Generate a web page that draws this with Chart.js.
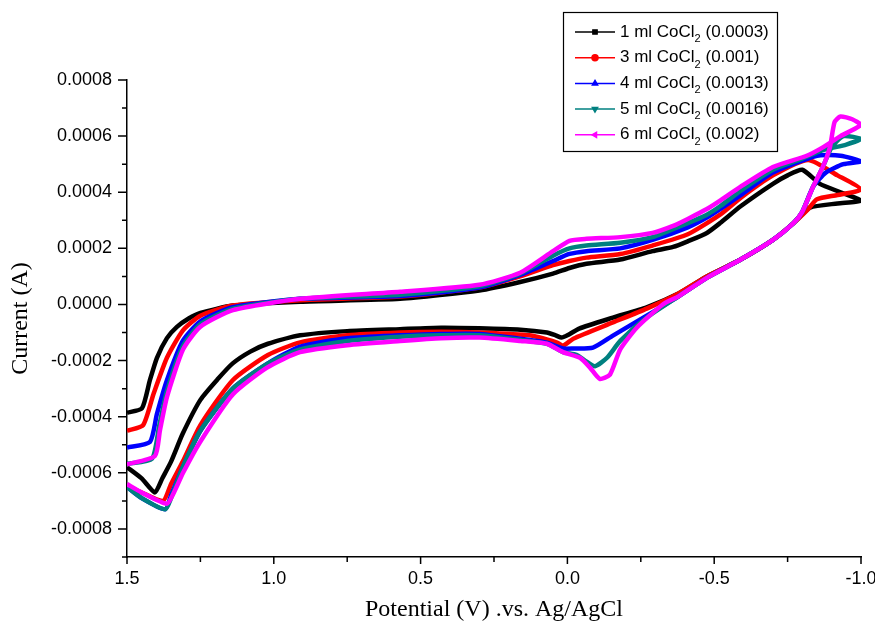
<!DOCTYPE html>
<html>
<head>
<meta charset="utf-8">
<script src="https://cdn.jsdelivr.net/npm/chart.js@4.4.0/dist/chart.umd.min.js"></script>
<style>
  html, body { margin: 0; padding: 0; background: #ffffff; }
  #contenedor { width: 875px; height: 628px; }
</style>
</head>
<body>
<div id="contenedor"><canvas id="grafica"></canvas></div>
<script>
//datos (potencial en V, corriente en A)
var etiquetas = [ '1 ml CoCl₂ (0.0003)', '3 ml CoCl₂ (0.001)', '4 ml CoCl₂ (0.0013)', '5 ml CoCl₂ (0.0016)', '6 ml CoCl₂ (0.002)' ];
var colores = [ '#000000', '#ff0000', '#0000ff', '#008080', '#ff00ff' ];
var marcadores = [ 'rect', 'circle', 'triangle', 'triangle', 'triangle' ];
var giros = [ 0, 0, 0, 180, -90 ];

var ticksX = [ 1.5, 1.0, 0.5, 0.0, -0.5, -1.0 ];
var ticksY = [ 0.0008, 0.0006, 0.0004, 0.0002, 0.0000, -0.0002, -0.0004, -0.0006, -0.0008 ];

var potencial1 = [ 1.5, 1.45, 1.405, 1.38, 1.35, 1.31, 1.25, 1.19, 1.14, 1.08, 1.02, 0.91, 0.75, 0.57, 0.43, 0.3, 0.16, 0.07, 0.04, 0.02, 0.0, -0.04, -0.155, -0.27, -0.38, -0.475, -0.59, -0.70, -0.77, -0.826, -0.92, -1.0,
                   -0.93, -0.86, -0.80, -0.75, -0.70, -0.59, -0.52, -0.475, -0.41, -0.36, -0.29, -0.18, -0.065, -0.007, 0.049, 0.161, 0.3, 0.57, 0.91, 1.14, 1.25, 1.29, 1.33, 1.364, 1.398, 1.422, 1.449, 1.5 ];
var corriente1 = [ -0.00058, -0.00062, -0.00067, -0.00062, -0.00056, -0.00046, -0.00034, -0.000265, -0.00021, -0.000168, -0.00014, -0.00011, -0.000095, -0.000088, -0.000083, -0.000085, -0.00009, -0.0001, -0.00011, -0.000118, -0.00011, -0.000086, -0.000047, -0.00001, 0.00004, 0.0001, 0.00016, 0.00023, 0.00029, 0.000345, 0.00036, 0.00037,
                   0.0004, 0.00043, 0.00048, 0.00046, 0.00043, 0.00035, 0.00029, 0.000255, 0.000225, 0.000205, 0.00019, 0.00016, 0.000145, 0.00013, 0.00011, 0.00008, 0.00005, 0.00002, 0.00001, -0.000004, -0.00003, -0.00005, -0.00008, -0.00012, -0.00019, -0.00027, -0.00037, -0.000386 ];

var potencial2 = [ 1.5, 1.45, 1.377, 1.35, 1.31, 1.25, 1.14, 1.02, 0.91, 0.75, 0.57, 0.43, 0.3, 0.13, 0.035, 0.015, -0.02, -0.155, -0.27, -0.38, -0.475, -0.59, -0.70, -0.77, -0.82, -0.85, -0.92, -1.0,
                   -0.92, -0.82, -0.70, -0.59, -0.52, -0.41, -0.29, -0.18, -0.065, -0.007, 0.049, 0.161, 0.3, 0.57, 0.91, 1.14, 1.25, 1.31, 1.364, 1.41, 1.445, 1.5 ];
var corriente2 = [ -0.000645, -0.00067, -0.0007, -0.00064, -0.00056, -0.00043, -0.00027, -0.00018, -0.000135, -0.00011, -0.0001, -0.000097, -0.0001, -0.00011, -0.000136, -0.000147, -0.000122, -0.000064, -0.000015, 0.00004, 0.0001, 0.00016, 0.00023, 0.00029, 0.00034, 0.000375, 0.00039, 0.00041,
                   0.00046, 0.000515, 0.00046, 0.00038, 0.00032, 0.00025, 0.00021, 0.00018, 0.000167, 0.000155, 0.00014, 0.0001, 0.00006, 0.000028, 0.000015, -0.000004, -0.00004, -0.000093, -0.00019, -0.00032, -0.00043, -0.00045 ];

var potencial3 = [ 1.5, 1.45, 1.37, 1.35, 1.31, 1.25, 1.14, 1.02, 0.91, 0.75, 0.57, 0.43, 0.3, 0.07, 0.015, -0.02, -0.087, -0.155, -0.27, -0.38, -0.475, -0.59, -0.70, -0.77, -0.80, -0.837, -0.88, -0.94, -1.0,
                   -0.93, -0.85, -0.70, -0.59, -0.52, -0.475, -0.41, -0.29, -0.18, -0.065, -0.007, 0.049, 0.161, 0.3, 0.57, 0.91, 1.14, 1.25, 1.31, 1.364, 1.398, 1.422, 1.5 ];
var corriente3 = [ -0.00065, -0.00069, -0.00073, -0.00068, -0.00058, -0.00045, -0.0003, -0.00021, -0.00015, -0.00012, -0.00011, -0.000105, -0.000105, -0.000136, -0.000157, -0.000157, -0.000154, -0.000111, -0.00004, 0.00003, 0.000095, 0.00016, 0.00023, 0.00029, 0.00033, 0.00042, 0.00047, 0.0005, 0.00051,
                   0.00053, 0.00053, 0.00047, 0.00039, 0.00034, 0.00031, 0.000275, 0.00023, 0.0002, 0.00019, 0.00018, 0.000155, 0.000105, 0.00006, 0.00003, 0.00002, -0.00001, -0.00006, -0.00013, -0.00027, -0.00039, -0.00049, -0.00051 ];

var potencial4 = [ 1.5, 1.45, 1.37, 1.35, 1.31, 1.25, 1.14, 1.02, 0.91, 0.75, 0.57, 0.43, 0.3, 0.07, 0.015, -0.031, -0.06, -0.094, -0.135, -0.18, -0.27, -0.38, -0.475, -0.59, -0.70, -0.77, -0.80, -0.837, -0.87, -0.9, -0.94, -1.0,
                   -0.95, -0.87, -0.80, -0.70, -0.59, -0.52, -0.475, -0.41, -0.29, -0.18, -0.065, -0.007, 0.049, 0.161, 0.3, 0.57, 0.91, 1.14, 1.25, 1.31, 1.364, 1.39, 1.415, 1.5 ];
var corriente4 = [ -0.00065, -0.00069, -0.00073, -0.00069, -0.00058, -0.00045, -0.0003, -0.00021, -0.00016, -0.00013, -0.000115, -0.00011, -0.00011, -0.00014, -0.00017, -0.00018, -0.0002, -0.00022, -0.00019, -0.00013, -0.000047, 0.00003, 0.000095, 0.00016, 0.00023, 0.00029, 0.00033, 0.00042, 0.00049, 0.00056, 0.0006, 0.00059,
                   0.00057, 0.00055, 0.00052, 0.00048, 0.000405, 0.00035, 0.00032, 0.00029, 0.00024, 0.00022, 0.00021, 0.0002, 0.000174, 0.00011, 0.000065, 0.000035, 0.00002, -0.000015, -0.00007, -0.00015, -0.00031, -0.00043, -0.00055, -0.000568 ];

var potencial5 = [ 1.5, 1.45, 1.364, 1.34, 1.309, 1.251, 1.139, 1.023, 0.911, 0.75, 0.57, 0.43, 0.3, 0.16, 0.07, 0.015, -0.043, -0.077, -0.11, -0.145, -0.18, -0.237, -0.325, -0.38, -0.475, -0.59, -0.70, -0.77, -0.80, -0.837, -0.87, -0.894, -0.91, -0.93, -0.97, -1.0,
                   -0.93, -0.87, -0.815, -0.70, -0.59, -0.52, -0.475, -0.41, -0.36, -0.29, -0.18, -0.065, -0.007, 0.049, 0.161, 0.3, 0.57, 0.91, 1.139, 1.251, 1.309, 1.364, 1.388, 1.405, 1.5 ];
var corriente5 = [ -0.00064, -0.00067, -0.00071, -0.00067, -0.0006, -0.00049, -0.00032, -0.000225, -0.00017, -0.000145, -0.00013, -0.00012, -0.000118, -0.00013, -0.00014, -0.00017, -0.00019, -0.000225, -0.000265, -0.00025, -0.00016, -0.000082, 0.0, 0.00003, 0.000095, 0.00016, 0.00023, 0.00029, 0.00033, 0.00042, 0.00049, 0.00056, 0.00065, 0.00067, 0.00066, 0.00064,
                   0.0006, 0.00056, 0.00053, 0.00049, 0.00042, 0.00037, 0.00034, 0.000305, 0.00028, 0.000255, 0.00024, 0.000234, 0.000227, 0.00019, 0.000113, 0.00007, 0.000045, 0.00002, -0.00002, -0.00008, -0.00016, -0.00033, -0.00045, -0.00054, -0.00057 ];

var potenciales = [ potencial1, potencial2, potencial3, potencial4, potencial5 ];
var corrientes = [ corriente1, corriente2, corriente3, corriente4, corriente5 ];

//armar los datasets
var conjuntos = etiquetas.map( function( etiqueta, i )
{
  return {
    label: etiqueta,
    data: potenciales[ i ].map( function( v, j ) { return { x: v, y: corrientes[ i ][ j ] }; } ),
    borderColor: colores[ i ],
    backgroundColor: colores[ i ],
    borderWidth: 4.5,
    pointRadius: 0,
    showLine: true,
    tension: 0.2,
    order: etiquetas.length - i
  };
});

//marcas de los ejes (mayores y menores)
var marcasEjes =
{
  id: 'marcasEjes',
  afterDraw: function( chart )
  {
    var ctx = chart.ctx;
    var ejeX = chart.scales.x;
    var ejeY = chart.scales.y;
    ctx.save( );
    ctx.strokeStyle = '#000000';
    ctx.lineWidth = 1.5;
    ctx.beginPath( );
    ejeX.ticks.forEach( function( t )
    {
      var px = ejeX.getPixelForValue( t.value );
      var largo = ( Math.round( t.value * 4 ) % 2 === 0 ) ? 7 : 5;
      ctx.moveTo( px, ejeX.top );
      ctx.lineTo( px, ejeX.top + largo );
    });
    ejeY.ticks.forEach( function( t )
    {
      var py = ejeY.getPixelForValue( t.value );
      var largo = ( Math.round( t.value * 10000 ) % 2 === 0 ) ? 9 : 5;
      ctx.moveTo( ejeY.right, py );
      ctx.lineTo( ejeY.right - largo, py );
    });
    ctx.stroke( );
    ctx.restore( );
  }
};

//leyenda con subindice
var leyenda =
{
  id: 'leyenda',
  afterDraw: function( chart )
  {
    var ctx = chart.ctx;
    ctx.save( );
    ctx.fillStyle = '#ffffff';
    ctx.fillRect( 563, 12, 214, 139 );
    ctx.strokeStyle = '#000000';
    ctx.lineWidth = 1.2;
    ctx.strokeRect( 563.5, 12.5, 214, 139 );

    etiquetas.forEach( function( etiqueta, i )
    {
      var y = 32 + i * 25.7;
      ctx.strokeStyle = colores[ i ];
      ctx.lineWidth = 1.5;
      ctx.beginPath( );
      ctx.moveTo( 575, y );
      ctx.lineTo( 615, y );
      ctx.stroke( );
      ctx.fillStyle = colores[ i ];
      Chart.helpers.drawPoint( ctx, { pointStyle: marcadores[ i ], rotation: giros[ i ], radius: 3, borderWidth: 1 }, 595, y );

      var partes = etiqueta.split( '₂' );
      ctx.fillStyle = '#000000';
      ctx.textBaseline = 'middle';
      ctx.textAlign = 'left';
      ctx.font = '17px "Liberation Sans", Arial, sans-serif';
      var x = 620;
      ctx.fillText( partes[ 0 ], x, y );
      x += ctx.measureText( partes[ 0 ] ).width;
      ctx.font = '11px "Liberation Sans", Arial, sans-serif';
      ctx.fillText( '2', x, y + 7 );
      x += ctx.measureText( '2' ).width;
      ctx.font = '17px "Liberation Sans", Arial, sans-serif';
      ctx.fillText( partes[ 1 ], x, y );
    });
    ctx.restore( );
  }
};

var fuenteTicks = { family: '"Liberation Sans", Arial, sans-serif', size: 18 };
var fuenteTitulo = { family: '"Liberation Serif", "Times New Roman", serif', size: 24 };

var grafica = new Chart( document.getElementById( 'grafica' ).getContext( '2d' ),
{
  type: 'scatter',
  data: { datasets: conjuntos },
  options:
  {
    responsive: true,
    maintainAspectRatio: false,
    animation: false,
    layout: { padding: { top: 80, right: 14, left: 0, bottom: 0 } },
    plugins:
    {
      legend: { display: false },
      tooltip: { enabled: false }
    },
    scales:
    {
      x:
      {
        type: 'linear',
        reverse: true,
        min: -1.0,
        max: 1.5,
        grid: { display: true, drawOnChartArea: false, drawTicks: false },
        border: { display: true, color: '#000000', width: 1.5 },
        ticks:
        {
          stepSize: 0.25,
          autoSkip: false,
          maxRotation: 0,
          padding: 11,
          color: '#000000',
          font: fuenteTicks,
          callback: function( v )
          {
            var r = Math.round( v * 10 ) / 10;
            return ticksX.indexOf( r ) >= 0 && Math.abs( v - r ) < 1e-6 ? r.toFixed( 1 ) : '';
          }
        },
        title: { display: true, text: 'Potential (V) .vs. Ag/AgCl', color: '#000000', font: fuenteTitulo, padding: { top: 4, bottom: 4 } },
        afterFit: function( eje ) { eje.height = 71; eje.paddingRight = 0; eje.paddingLeft = 0; }
      },
      y:
      {
        type: 'linear',
        min: -0.0009,
        max: 0.0008,
        grid: { display: true, drawOnChartArea: false, drawTicks: false },
        border: { display: true, color: '#000000', width: 1.5 },
        ticks:
        {
          stepSize: 0.0001,
          autoSkip: false,
          padding: 15,
          color: '#000000',
          font: fuenteTicks,
          callback: function( v )
          {
            var r = Math.round( v * 10000 ) / 10000;
            return ticksY.indexOf( r ) >= 0 ? r.toFixed( 4 ) : '';
          }
        },
        title: { display: true, text: 'Current (A)', color: '#000000', font: fuenteTitulo, padding: { top: 6, bottom: 4 } },
        afterFit: function( eje ) { eje.width = 127; eje.paddingTop = 0; eje.paddingBottom = 0; }
      }
    }
  },
  plugins: [ marcasEjes, leyenda ]
});
</script>
</body>
</html>
